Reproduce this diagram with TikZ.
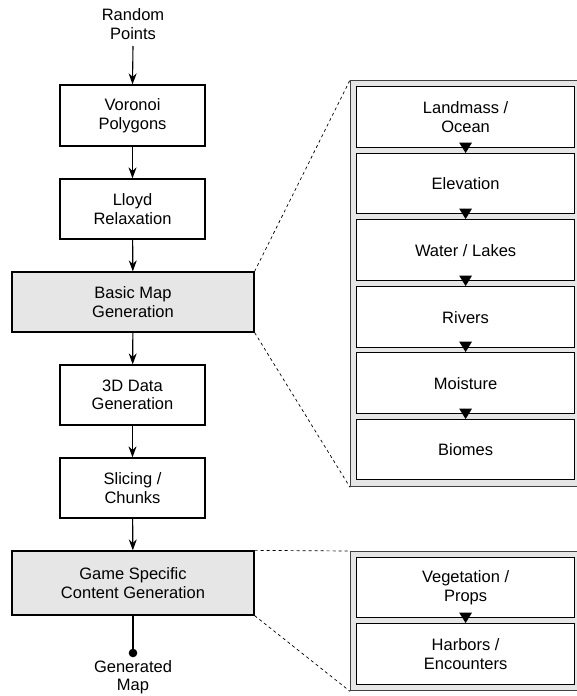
\documentclass[tikz,border=0pt]{standalone}
\usepackage{fontspec}
\setmainfont{Liberation Sans}
\usetikzlibrary{arrows.meta}
\definecolor{panelgray}{HTML}{E6E6E6}
\begin{document}
\begin{tikzpicture}[x=1pt,y=-1pt,
  every node/.style={font=\fontsize{16.5}{18.5}\selectfont, align=center, inner sep=0pt},
  stepbox/.style={draw=black, line width=1.3pt, fill=white},
  graybox/.style={draw=black, line width=1.3pt, fill=panelgray},
  panel/.style={draw=black!75, line width=1.3pt, fill=panelgray},
  flow/.style={line width=1.1pt, -{Stealth[length=11pt,width=8pt]}},
  zoomline/.style={line width=0.7pt, dash pattern=on 3pt off 3pt}]
\useasboundingbox (0,0) rectangle (576,696);
% left column
\node (rp) at (133,24) {Random\\Points};
\node[stepbox, minimum width=145pt, minimum height=61pt] (vp) at (132.5,115.5) {Voronoi\\Polygons};
\node[stepbox, minimum width=145pt, minimum height=60pt] (lr) at (132.5,209) {Lloyd\\Relaxation};
\node[graybox, minimum width=242pt, minimum height=60pt] (bm) at (133,302) {Basic Map\\Generation};
\node[stepbox, minimum width=145pt, minimum height=60pt] (dd) at (132.5,395) {3D Data\\Generation};
\node[stepbox, minimum width=145pt, minimum height=60pt] (sc) at (132.5,488) {Slicing /\\Chunks};
\node[graybox, minimum width=242pt, minimum height=64pt] (gs) at (133,583) {Game Specific\\Content Generation};
\coordinate (dot) at (133,653);
\node (gm) at (133,677) {Generated\\Map};
\draw[flow] (133,46) -- (vp.north);
\draw[flow] (vp) -- (lr);
\draw[flow] (lr) -- (bm);
\draw[flow] (bm) -- (dd);
\draw[flow] (dd) -- (sc);
\draw[flow] (sc) -- (gs);
\draw[line width=1.1pt] (gs.south) -- (dot);
\fill (dot) circle (4.3pt);
% upper panel
\node[panel, minimum width=240pt, minimum height=406pt, anchor=north west] (p1) at (350,80) {};
\foreach \n/\t/\ya/\yb in {a/{Landmass /\\Ocean}/86/147, b/Elevation/153/213, c/{Water / Lakes}/219/280, d/Rivers/286/347, e/Moisture/352/413, f/Biomes/419/479}{
  \node[stepbox, line width=1.2pt, minimum width=218pt, minimum height={\yb-\ya}, anchor=north west] (\n) at (356,\ya) {\t};
}
\foreach \v in {b,c,d,e,f}{
  \fill ([xshift=-6.5pt,yshift=10.5pt]\v.north) -- ([xshift=6.5pt,yshift=10.5pt]\v.north) -- (\v.north) -- cycle;
}
% lower panel
\node[panel, minimum width=240pt, minimum height=139pt, anchor=north west] (p2) at (350,551) {};
\node[stepbox, line width=1.2pt, minimum width=218pt, minimum height=60pt, anchor=north west] (g) at (356,557) {Vegetation /\\Props};
\node[stepbox, line width=1.2pt, minimum width=218pt, minimum height=61pt, anchor=north west] (h) at (356,623) {Harbors /\\Encounters};
\fill ([xshift=-6.5pt,yshift=10.5pt]h.north) -- ([xshift=6.5pt,yshift=10.5pt]h.north) -- (h.north) -- cycle;
% zoom lines
\draw[zoomline] (bm.north east) -- (p1.north west);
\draw[zoomline] (bm.south east) -- (p1.south west);
\draw[zoomline] (gs.north east) -- (p2.north west);
\draw[zoomline] (gs.south east) -- (p2.south west);
\end{tikzpicture}
\end{document}
